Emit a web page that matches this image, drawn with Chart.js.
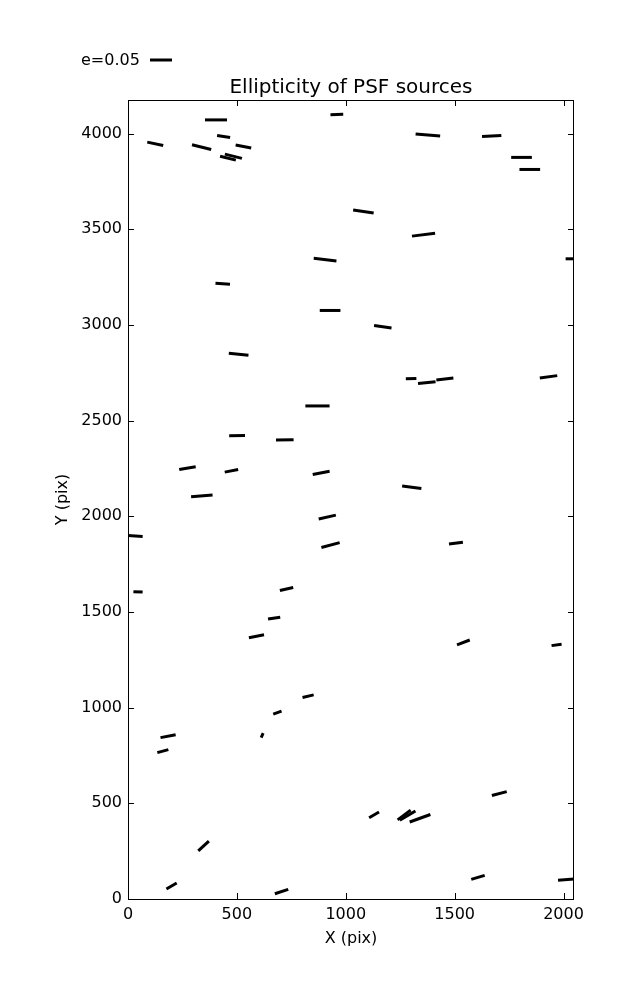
<!DOCTYPE html>
<html>
<head>
<meta charset="utf-8">
<script src="https://cdn.jsdelivr.net/npm/chart.js@4/dist/chart.umd.min.js"></script>
<style>
  html, body { margin: 0; padding: 0; background: #fff; }
  #wrap { width: 637px; height: 1000px; }
</style>
</head>
<body>
<div id="wrap"><canvas id="grafico" width="637" height="1000"></canvas></div>
<script>
// Posiciones de las fuentes (pix) en el CCD
const posX = [404, 439, 125, 338, 530, 459, 484, 959, 905, 435,
  1377, 1670, 1807, 1845, 1081, 1357, 2055, 928, 508, 870,
  501, 720, 273, 475, 887, 339, 1170, 1300, 1372, 1455,
  1931, 1303, 30, 46, 915, 930, 728, 671, 590, 827,
  1506, 1540, 1968, 686, 616, 184, 160, 347, 200, 705,
  1705, 1130, 1268, 1284, 1341, 1607, 2020];
const posY = [4072, 3985, 3947, 3930, 3933, 3872, 3882, 4100, 3342, 3216,
  3993, 3988, 3876, 3813, 3593, 3472, 3346, 3076, 2847, 2577,
  2422, 2400, 2252, 2238, 2227, 2107, 2991, 2720, 2699, 2718,
  2729, 2152, 1898, 1605, 1996, 1850, 1620, 1468, 1373, 1060,
  1860, 1341, 1328, 974, 855, 851, 773, 277, 68, 39,
  551, 440, 439, 436, 422, 113, 102];
// Elipticidad de cada fuente
const elip = [0.050, 0.030, 0.037, 0.045, 0.036, 0.037, 0.040, 0.029, 0.052, 0.033,
  0.056, 0.044, 0.047, 0.047, 0.047, 0.053, 0.045, 0.047, 0.045, 0.055,
  0.036, 0.040, 0.038, 0.031, 0.039, 0.049, 0.040, 0.024, 0.040, 0.039,
  0.040, 0.044, 0.037, 0.021, 0.040, 0.043, 0.031, 0.028, 0.035, 0.026,
  0.032, 0.031, 0.023, 0.020, 0.011, 0.035, 0.026, 0.033, 0.027, 0.032,
  0.035, 0.026, 0.037, 0.041, 0.050, 0.032, 0.045];
// Ángulo de posición (grados, antihorario)
const angulo = [0, -9, -12, -14, -11, -14, -14, 2, -7, -4,
  -5, 3, 0, 0, -8, 7, 0, 0, -6, 0,
  1, 1, 10, 11, 11, 5, -8, 2, 6, 7,
  8, -7, -4, -2, 13, 15, 13, 9, 11, 13,
  8, 21, 8, 20, 66, 11, 15, 43, 30, 18,
  15, 30, 37, 30, 20, 17, 5];

const ticksX = [0, 500, 1000, 1500, 2000];
const ticksY = [0, 500, 1000, 1500, 2000, 2500, 3000, 3500, 4000];
const eClave = 0.05;
const pxPorE = 22 / 0.05; // largo del trazo en píxeles por unidad de e

const fuente = 'DejaVu Sans';

// Marco, ticks hacia adentro, título y clave
const extras = {
  id: 'extras',
  afterDraw(chart) {
    const { ctx, chartArea: a, scales } = chart;
    ctx.save();
    ctx.strokeStyle = '#000';
    ctx.lineWidth = 1;
    ctx.strokeRect(a.left + 0.5, a.top + 0.5, a.right - a.left - 1, a.bottom - a.top);
    ctx.beginPath();
    ticksX.forEach((v) => {
      const p = Math.round(scales.x.getPixelForValue(v)) + 0.5;
      ctx.moveTo(p, a.bottom); ctx.lineTo(p, a.bottom - 6);
      ctx.moveTo(p, a.top); ctx.lineTo(p, a.top + 6);
    });
    ticksY.forEach((v) => {
      const p = Math.round(scales.y.getPixelForValue(v)) + 0.5;
      ctx.moveTo(a.left, p); ctx.lineTo(a.left + 6, p);
      ctx.moveTo(a.right, p); ctx.lineTo(a.right - 6, p);
    });
    ctx.stroke();

    ctx.fillStyle = '#000';
    ctx.font = '20px "' + fuente + '"';
    ctx.textAlign = 'center';
    ctx.textBaseline = 'middle';
    ctx.fillText('Ellipticity of PSF sources', (a.left + a.right) / 2, 88);

    ctx.font = '16px "' + fuente + '"';
    ctx.textAlign = 'left';
    ctx.fillText('e=0.05', 81, 61);
    ctx.lineWidth = 3;
    ctx.beginPath();
    ctx.moveTo(150, 60);
    ctx.lineTo(150 + eClave * pxPorE, 60);
    ctx.stroke();
    ctx.restore();
  }
};

new Chart(document.getElementById('grafico'), {
  type: 'scatter',
  data: {
    datasets: [{
      label: 'PSF',
      data: posX.map((x, i) => ({ x: x, y: posY[i] })),
      pointStyle: 'line',
      rotation: (c) => -angulo[c.dataIndex],
      radius: (c) => elip[c.dataIndex] * pxPorE / 2,
      borderColor: '#000',
      backgroundColor: '#000',
      borderWidth: 3,
      clip: 0,
    }],
  },
  options: {
    responsive: false,
    animation: false,
    events: [],
    layout: { padding: { top: 100, right: 63, bottom: 0, left: 0 } },
    plugins: { legend: { display: false }, tooltip: { enabled: false } },
    scales: {
      x: {
        type: 'linear',
        min: 0,
        max: 2048,
        afterBuildTicks: (s) => { s.ticks = ticksX.map((v) => ({ value: v })); },
        afterFit: (s) => { s.height = 101; },
        grid: { display: false, drawTicks: false },
        border: { display: false },
        ticks: { color: '#000', padding: 6, maxRotation: 0, callback: (v) => String(v), font: { family: fuente, size: 16 } },
        title: { display: true, text: 'X (pix)', color: '#000', padding: { bottom: 52 }, font: { family: fuente, size: 16 } },
      },
      y: {
        type: 'linear',
        min: 0,
        max: 4176,
        afterBuildTicks: (s) => { s.ticks = ticksY.map((v) => ({ value: v })); },
        afterFit: (s) => { s.width = 128; },
        grid: { display: false, drawTicks: false },
        border: { display: false },
        ticks: { color: '#000', padding: 6, callback: (v) => String(v), font: { family: fuente, size: 16 } },
        title: { display: true, text: 'Y (pix)', color: '#000', padding: { top: 53 }, font: { family: fuente, size: 16 } },
      },
    },
  },
  plugins: [extras],
});
</script>
</body>
</html>
